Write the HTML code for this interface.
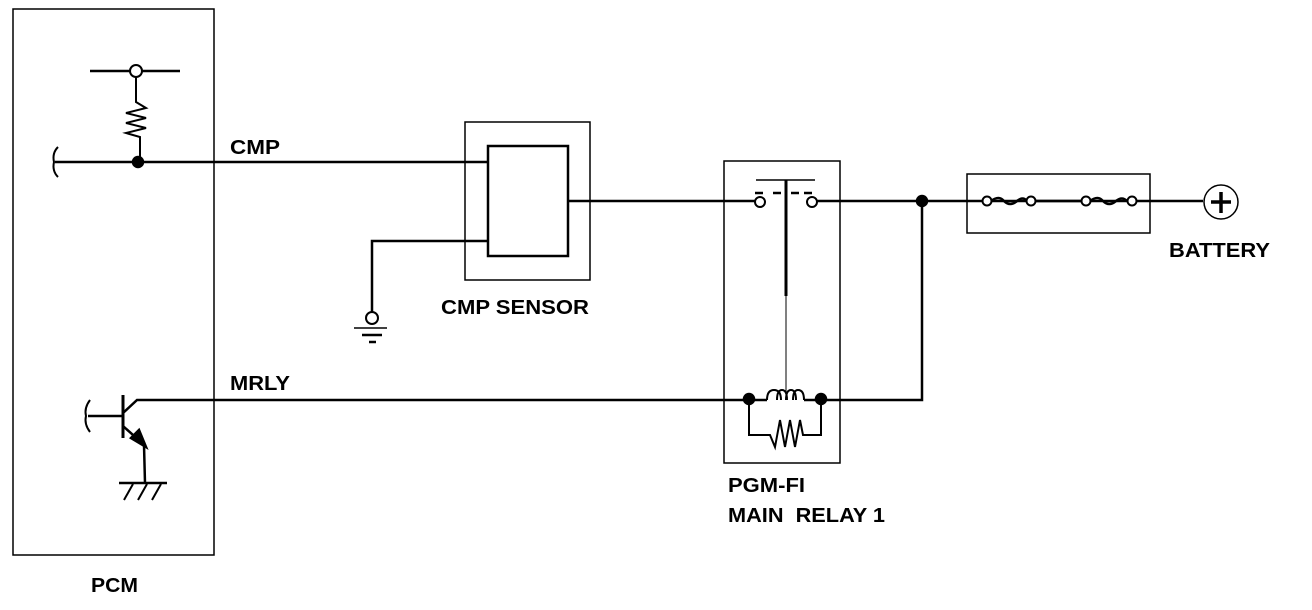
<!DOCTYPE html>
<html><head><style>body{margin:0;background:#fff}svg{display:block}</style></head><body>
<svg width="1312" height="610" viewBox="0 0 1312 610" xmlns="http://www.w3.org/2000/svg">
<g fill="none" stroke="#000" stroke-width="2.5">
<!-- PCM -->
<rect x="13" y="9" width="201" height="546" stroke-width="1.5"/>
<line x1="90" y1="71" x2="180" y2="71"/>
<circle cx="136" cy="71" r="6" fill="#fff" stroke-width="2"/>
<polyline points="136,77 136,102 146,108 126,113 146,118 126,123 146,128 126,133 140,137 140,162" stroke-width="2"/>
<path d="M58,147 q-6,6 -4,15 q-2,9 4,15" stroke-width="2"/>
<line x1="55" y1="162" x2="488" y2="162"/>
<circle cx="138" cy="162" r="5" fill="#000"/>
<!-- transistor -->
<line x1="123" y1="395" x2="123" y2="438" stroke-width="3"/>
<path d="M90,400 q-6,8 -4,16 q-2,8 4,16" stroke-width="2"/>
<line x1="88" y1="416" x2="123" y2="416"/>
<polyline points="123,413 137,400 748,400"/>
<polyline points="123,426 144,445 145,483"/>
<polygon points="131,438 146,447 139,430" fill="#000"/>
<line x1="119" y1="483" x2="167" y2="483"/>
<line x1="133" y1="484" x2="124" y2="500" stroke-width="2"/>
<line x1="147" y1="484" x2="138" y2="500" stroke-width="2"/>
<line x1="161" y1="484" x2="152" y2="500" stroke-width="2"/>
<!-- CMP sensor -->
<rect x="465" y="122" width="125" height="158" stroke-width="1.5"/>
<rect x="488" y="146" width="80" height="110"/>
<line x1="568" y1="201" x2="755" y2="201"/>
<polyline points="488,241 372,241 372,312"/>
<circle cx="372" cy="318" r="6" fill="#fff" stroke-width="2"/>
<line x1="354" y1="328" x2="387" y2="328" stroke-width="1.5"/>
<line x1="362" y1="335" x2="382" y2="335"/>
<line x1="369" y1="342" x2="376" y2="342"/>
<!-- relay -->
<rect x="724" y="161" width="116" height="302" stroke-width="1.5"/>
<line x1="756" y1="180" x2="815" y2="180" stroke-width="1.5"/>
<circle cx="760" cy="202" r="5" fill="#fff" stroke-width="2"/>
<circle cx="812" cy="202" r="5" fill="#fff" stroke-width="2"/>
<line x1="755" y1="193" x2="763" y2="193"/><line x1="773" y1="193" x2="781" y2="193"/><line x1="791" y1="193" x2="799" y2="193"/><line x1="804" y1="193" x2="812" y2="193"/>
<line x1="786" y1="180" x2="786" y2="296" stroke-width="3"/>
<line x1="786" y1="296" x2="786" y2="392" stroke-width="1"/>
<line x1="817" y1="201" x2="1203" y2="201"/>
<circle cx="922" cy="201" r="5" fill="#000"/>
<line x1="748" y1="400" x2="767" y2="400"/>
<path d="M767,400 q0,-10 7,-10 q7,0 7,10 M777,400 q0,-10 5,-10 q5,0 5,10 M786,400 q0,-10 5,-10 q5,0 5,10 M793,400 q0,-10 5,-10 q6,0 6,10" stroke-width="2"/>
<line x1="804" y1="400" x2="821" y2="400"/>
<polyline points="821,400 922,400 922,201"/>
<circle cx="749" cy="399" r="5" fill="#000"/>
<circle cx="821" cy="399" r="5" fill="#000"/>
<polyline points="749,399 749,435 770,435 775,447 780,420 785,447 790,420 795,447 800,420 803,435 821,435 821,399" stroke-width="2"/>
<!-- fuses -->
<rect x="967" y="174" width="183" height="59" stroke-width="1.5"/>
<line x1="1035" y1="201" x2="1082" y2="201"/>
<path d="M991,201 q8,-6 13,0 q6,6 13,0 q6,-5 10,0" />
<path d="M1090,201 q8,-6 13,0 q6,6 13,0 q6,-5 11,0"/>
<circle cx="987" cy="201" r="4.5" fill="#fff" stroke-width="2"/>
<circle cx="1031" cy="201" r="4.5" fill="#fff" stroke-width="2"/>
<circle cx="1086" cy="201" r="4.5" fill="#fff" stroke-width="2"/>
<circle cx="1132" cy="201" r="4.5" fill="#fff" stroke-width="2"/>
<circle cx="1221" cy="202" r="17" stroke-width="1.5"/>
<line x1="1221" y1="192" x2="1221" y2="213" stroke-width="3.5"/>
<line x1="1211" y1="202" x2="1231" y2="202" stroke-width="3.5"/>
</g>
<g font-family="Liberation Sans, sans-serif" font-weight="bold" font-size="20" fill="#000">
<text x="230" y="154" textLength="50" lengthAdjust="spacingAndGlyphs">CMP</text>
<text x="230" y="390" textLength="60" lengthAdjust="spacingAndGlyphs">MRLY</text>
<text x="441" y="314" textLength="148" lengthAdjust="spacingAndGlyphs">CMP SENSOR</text>
<text x="728" y="492" textLength="77" lengthAdjust="spacingAndGlyphs">PGM-FI</text>
<text x="728" y="522" xml:space="preserve" textLength="157" lengthAdjust="spacingAndGlyphs">MAIN  RELAY 1</text>
<text x="1169" y="257" textLength="101" lengthAdjust="spacingAndGlyphs">BATTERY</text>
<text x="91" y="592" textLength="47" lengthAdjust="spacingAndGlyphs">PCM</text>
</g>
</svg>
</body></html>
